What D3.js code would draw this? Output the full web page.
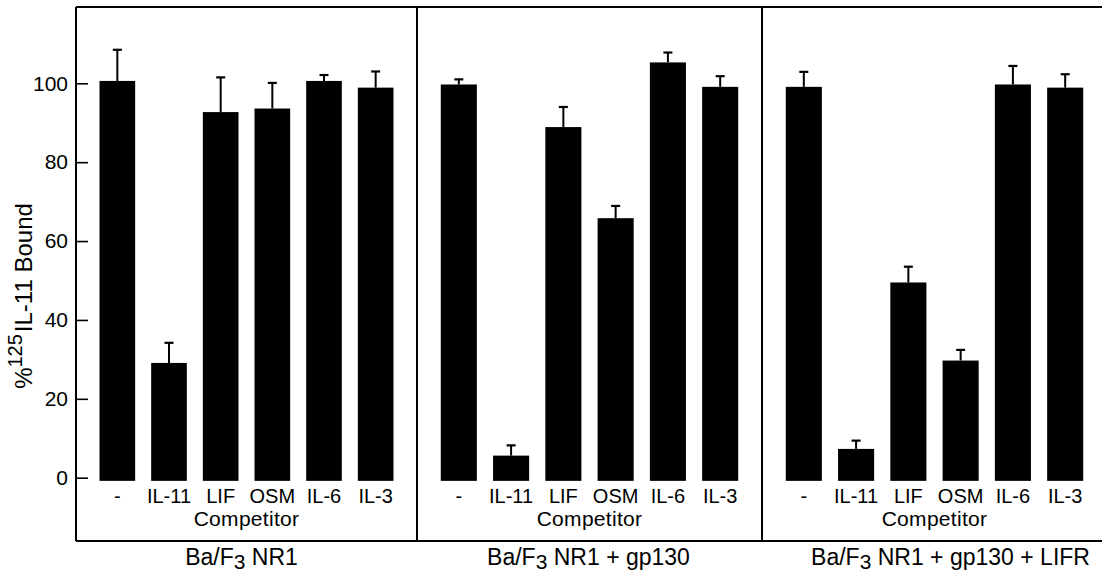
<!DOCTYPE html>
<html>
<head>
<meta charset="utf-8">
<script src="https://cdn.jsdelivr.net/npm/d3@7"></script>
<style>
  html, body { margin: 0; padding: 0; background: #fff; }
  svg { display: block; font-family: "Liberation Sans", Arial, Helvetica, sans-serif; }
</style>
</head>
<body>
<svg id="chart" width="1102" height="575"></svg>
<script>
// ---- data ----
const categories = ["-", "IL-11", "LIF", "OSM", "IL-6", "IL-3"];
const panelNames = ["Ba/F3 NR1", "Ba/F3 NR1 + gp130", "Ba/F3 NR1 + gp130 + LIFR"];
const valuesNR1 = [100.6, 29.1, 92.7, 93.6, 100.6, 98.9];
const errorsNR1 = [7.9, 5.1, 8.8, 6.5, 1.5, 4.1];
const valuesGp130 = [99.7, 5.6, 88.9, 65.8, 105.3, 99.1];
const errorsGp130 = [1.3, 2.6, 5.1, 3.1, 2.5, 2.7];
const valuesLIFR = [99.1, 7.3, 49.5, 29.7, 99.7, 98.9];
const errorsLIFR = [3.8, 2.1, 4.0, 2.7, 4.7, 3.4];
const yTicks = [0, 20, 40, 60, 80, 100];
const yLabelMain = "IL-11 Bound";
const yLabelSup = "125";
const xTitle = "Competitor";

const panels = [
  { values: valuesNR1, errors: errorsNR1 },
  { values: valuesGp130, errors: errorsGp130 },
  { values: valuesLIFR, errors: errorsLIFR }
];

// ---- layout ----
const svg = d3.select("#chart");
const frameTop = 7, frameBottom = 541;
const panelEdges = [76, 417, 762, 1107];
const titleDx = [-5, -1, 16];

const y = d3.scaleLinear().domain([0, 100]).range([477.7, 83.3]);
const barBase = -0.8;

// frame
const frame = svg.append("g").attr("stroke", "#000").attr("stroke-width", 2).attr("fill", "none");
frame.append("line").attr("x1", panelEdges[0]).attr("x2", 1102).attr("y1", frameTop).attr("y2", frameTop);
frame.append("line").attr("x1", panelEdges[0]).attr("x2", 1102).attr("y1", frameBottom).attr("y2", frameBottom);
panelEdges.forEach(px => {
  frame.append("line").attr("x1", px).attr("x2", px).attr("y1", frameTop).attr("y2", frameBottom);
});

// y axis
const yAxis = d3.axisLeft(y).tickValues(yTicks).tickSizeInner(-12).tickSizeOuter(0).tickPadding(8);
const ya = svg.append("g").attr("transform", `translate(${panelEdges[0]},0)`).call(yAxis);
ya.select(".domain").remove();
ya.selectAll(".tick line").attr("stroke", "#000").attr("stroke-width", 1.6);
ya.selectAll(".tick text").attr("font-size", 21).attr("fill", "#000")
  .attr("font-family", "Liberation Sans, Arial, sans-serif");

// y label
const yl = svg.append("text")
  .attr("transform", "translate(32,296) rotate(-90)")
  .attr("text-anchor", "middle")
  .attr("font-size", 24)
  .attr("fill", "#000");
yl.append("tspan").text("%");
yl.append("tspan").attr("font-size", 20).attr("dy", -10).text(yLabelSup);
yl.append("tspan").attr("dy", 10).attr("dx", 2).text(yLabelMain);

// panels
panels.forEach((p, i) => {
  const x = d3.scaleBand().domain(categories)
    .range([panelEdges[i], panelEdges[i + 1]])
    .paddingInner(0.31).paddingOuter(0.455);
  const g = svg.append("g");
  const data = categories.map((c, k) => ({ c, v: p.values[k], e: p.errors[k] }));

  g.selectAll("rect").data(data).join("rect")
    .attr("x", d => x(d.c))
    .attr("width", x.bandwidth())
    .attr("y", d => y(d.v))
    .attr("height", d => y(barBase) - y(d.v))
    .attr("fill", "#000");

  g.selectAll("line.err").data(data).join("line").attr("class", "err")
    .attr("x1", d => x(d.c) + x.bandwidth() / 2)
    .attr("x2", d => x(d.c) + x.bandwidth() / 2)
    .attr("y1", d => y(d.v))
    .attr("y2", d => y(d.v + d.e))
    .attr("stroke", "#000").attr("stroke-width", 2);
  g.selectAll("line.cap").data(data).join("line").attr("class", "cap")
    .attr("x1", d => x(d.c) + x.bandwidth() / 2 - 4.5)
    .attr("x2", d => x(d.c) + x.bandwidth() / 2 + 4.5)
    .attr("y1", d => y(d.v + d.e))
    .attr("y2", d => y(d.v + d.e))
    .attr("stroke", "#000").attr("stroke-width", 2.2);

  // category labels
  g.selectAll("text.cat").data(categories).join("text").attr("class", "cat")
    .attr("x", d => x(d) + x.bandwidth() / 2)
    .attr("y", 503)
    .attr("text-anchor", "middle")
    .attr("font-size", 20)
    .attr("fill", "#000")
    .text(d => d);

  const cx = (x(categories[0]) + x(categories[categories.length - 1]) + x.bandwidth()) / 2;
  g.append("text")
    .attr("x", cx).attr("y", 526)
    .attr("text-anchor", "middle")
    .attr("font-size", 21)
    .attr("letter-spacing", 0.3)
    .attr("fill", "#000")
    .text(xTitle);

  // panel title with subscript 3
  const name = panelNames[i];
  const parts = name.split("F3");
  const t = g.append("text")
    .attr("x", cx + titleDx[i]).attr("y", 565)
    .attr("text-anchor", "middle")
    .attr("font-size", 23)
    .attr("fill", "#000");
  t.append("tspan").text(parts[0] + "F");
  t.append("tspan").attr("dy", 4).attr("font-size", 21).text("3");
  t.append("tspan").attr("dy", -4).text(parts[1]);
});
</script>
</body>
</html>
